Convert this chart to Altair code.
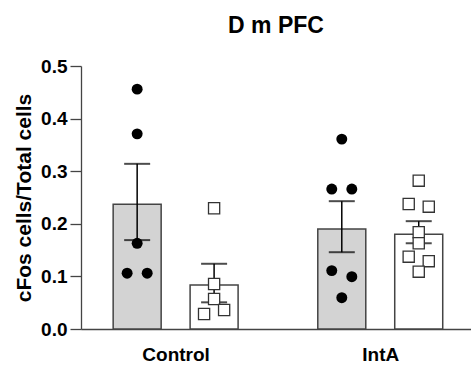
import altair as alt
import pandas as pd

# ---- data ----
title_text = "D m PFC"
y_title = "cFos cells/Total cells"
groups = ["Control", "IntA"]
series = ["Series A", "Series B"]          # gray bars / filled circles, white bars / open squares

# individual points
control_a = [0.456, 0.371, 0.163, 0.106, 0.106]
control_b = [0.2295, 0.0856, 0.057, 0.036, 0.0285]
inta_a = [0.361, 0.266, 0.266, 0.111, 0.0995, 0.0595]
inta_b = [0.282, 0.2376, 0.2326, 0.184, 0.163, 0.1375, 0.129, 0.109]

# scatter column slot of each point (-1 left, 0 centre, 1 right)
control_a_slot = [0, 0, 0, -1, 1]
control_b_slot = [0, 0, 0, 1, -1]
inta_a_slot = [0, -1, 1, -1, 1, 0]
inta_b_slot = [0, -1, 1, 0, 0, -1, 1, 0]

# bar means and SEM bounds
means = [0.237, 0.0837, 0.190, 0.180]
err_low = [0.169, 0.0507, 0.146, 0.163]
err_high = [0.314, 0.124, 0.243, 0.205]

# ---- tables ----
bar_rows = []
k = 0
for gi, g in enumerate(groups):
    for si, s in enumerate(series):
        bar_rows.append(dict(group=g, gi=gi, series=s, si=si,
                             mean=means[k], lo=err_low[k], hi=err_high[k]))
        k += 1
bars_df = pd.DataFrame(bar_rows)

pt_rows = []
for gi, g in enumerate(groups):
    for si, s in enumerate(series):
        vals = [[control_a, control_b], [inta_a, inta_b]][gi][si]
        slots = [[control_a_slot, control_b_slot], [inta_a_slot, inta_b_slot]][gi][si]
        for v, sl in zip(vals, slots):
            pt_rows.append(dict(group=g, gi=gi, series=s, si=si, value=v, slot=sl))
pts_df = pd.DataFrame(pt_rows)

SUB = 0.188   # half distance between the two bars of a group (x units)
JIT = 0.049   # scatter column spacing (x units)

xscale = alt.Scale(domain=[-0.438, 1.419], nice=False, zero=False)
yscale = alt.Scale(domain=[0, 0.5], nice=False)

label_expr = " : ".join(
    [f"datum.value == {i} ? '{g}'" for i, g in enumerate(groups)]) + " : ''"

xaxis = alt.Axis(values=list(range(len(groups))), labelExpr=label_expr, title=None,
                 ticks=False, grid=False, domainColor="#444444", domainWidth=1.5,
                 labelFont="Liberation Sans", labelFontWeight="bold", labelFontSize=19,
                 labelColor="black", labelPadding=16)
yaxis = alt.Axis(values=[0, 0.1, 0.2, 0.3, 0.4, 0.5], format=".1f", title=y_title,
                 grid=False, tickSize=11, tickColor="#444444", tickWidth=1.3,
                 domainColor="#444444", domainWidth=1.3,
                 labelFont="Liberation Sans", labelFontWeight="bold", labelFontSize=19,
                 labelColor="black", labelPadding=3,
                 titleFont="Liberation Sans", titleFontWeight="bold", titleFontSize=21,
                 titleColor="black", titlePadding=6)

base_bar = alt.Chart(bars_df).transform_calculate(
    xpos=f"datum.gi + (datum.si - 0.5) * 2 * {SUB}")

bars = base_bar.mark_bar(size=48, stroke="#444444", strokeWidth=1.5).encode(
    x=alt.X("xpos:Q", scale=xscale, axis=xaxis),
    y=alt.Y("mean:Q", scale=yscale, axis=yaxis),
    fill=alt.Fill("series:N", scale=alt.Scale(domain=series, range=["#d3d3d3", "#ffffff"]),
                  legend=None),
)

err_line = base_bar.mark_rule(color="black", strokeWidth=1.5).encode(
    x="xpos:Q", y="lo:Q", y2="hi:Q")
cap_hi = base_bar.mark_tick(color="black", orient="horizontal", size=26, thickness=2).encode(
    x="xpos:Q", y="hi:Q")
cap_lo = base_bar.mark_tick(color="black", orient="horizontal", size=26, thickness=2).encode(
    x="xpos:Q", y="lo:Q")

base_pts = alt.Chart(pts_df).transform_calculate(
    xpos=f"datum.gi + (datum.si - 0.5) * 2 * {SUB} + datum.slot * {JIT}")

circles = base_pts.transform_filter(f"datum.series == '{series[0]}'").mark_point(
    shape="circle", size=120, filled=True, color="black", opacity=1).encode(
    x="xpos:Q", y="value:Q")
squares = base_pts.transform_filter(f"datum.series == '{series[1]}'").mark_point(
    shape="square", size=125, filled=False, fill="white", fillOpacity=1,
    stroke="#333333", strokeWidth=1.3, opacity=1).encode(
    x="xpos:Q", y="value:Q")

chart = alt.layer(bars, err_line, cap_hi, cap_lo, circles, squares).properties(
    width=390, height=263,
    title=alt.TitleParams(title_text, font="Liberation Sans", fontSize=23, fontWeight="bold",
                          color="black", anchor="middle", offset=19),
    autosize=alt.AutoSizeParams(type="none"),
    padding={"left": 81, "top": 66, "right": 0, "bottom": 37},
).configure_view(stroke=None)

chart.save("out.html", embed_options={"renderer": "svg", "actions": False})
